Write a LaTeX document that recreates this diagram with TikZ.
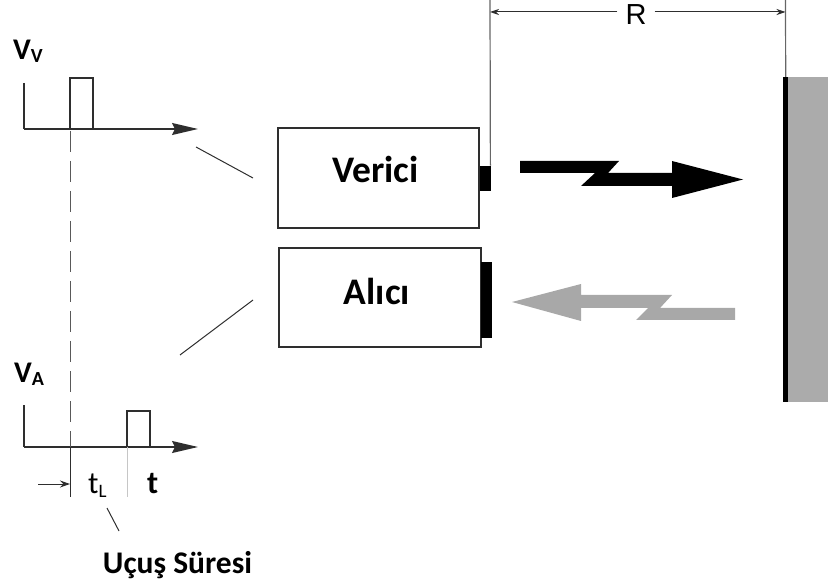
\documentclass[tikz,border=0pt]{standalone}
\usepackage{fontspec}
\setmainfont{Carlito}
\newfontfamily\arialfont{Liberation Sans}
\usetikzlibrary{arrows.meta}
\definecolor{ink}{HTML}{2E2E2E}
\definecolor{wallgray}{HTML}{ABABAB}
\definecolor{beamgray}{HTML}{A8A8A8}
\begin{document}
\begin{tikzpicture}[x=1pt,y=-1pt,
  axis/.style={draw=ink, line width=1.4pt, line join=miter},
  axarrow/.style={-{Stealth[length=26pt,width=12pt,inset=3pt]}},
  pulse/.style={draw=ink, line width=1.3pt},
  box/.style={draw=ink, line width=1.7pt, inner sep=0pt},
  pad/.style={fill=black, inner sep=0pt},
  big/.style={font=\fontsize{37.5}{42}\selectfont\bfseries, inner sep=0pt},
  lab/.style={font=\fontsize{30}{32}\selectfont\bfseries, inner sep=0pt},
  labr/.style={font=\fontsize{31}{32}\selectfont, inner sep=0pt},
  thin/.style={draw=ink, line width=1pt},
  dim/.style={draw=ink, line width=1pt, -{Stealth[length=9pt,width=6pt]}},
  ext/.style={draw=gray!80!black, line width=1.2pt}
]
\useasboundingbox (0,0) rectangle (828,588);

% transmitter / receiver boxes
\node[box, minimum width=201pt, minimum height=100pt] (verici) at (378.5,178) {};
\node[box, minimum width=202pt, minimum height=99pt] (alici) at (380,297.5) {};
\node[pad, minimum width=11pt, minimum height=25pt, anchor=south west] (tx) at (480,191) {};
\node[pad, minimum width=11pt, minimum height=76pt, anchor=south west] (rx) at (481,338) {};
\node[big, anchor=base] (tv) at (375.5,183) {Verici};
\node[big, anchor=base] (ta) at (377,305) {Alıcı};

% wall
\node[fill=wallgray, inner sep=0pt, minimum width=41pt, minimum height=325pt, anchor=north west] (wall) at (787,77) {};
\node[pad, minimum width=5pt, minimum height=325pt, anchor=north west] (wallface) at (783,77) {};

% R dimension
\coordinate (rtop) at (490,0);
\coordinate (wtop) at (785.5,0);
\coordinate (rl) at (490,12);
\coordinate (rr) at (785.5,12);
\draw[ext] ([xshift=-1pt]tx.north east) -- (rtop);
\draw[ext] (wallface.north) -- (wtop);
\node[inner xsep=8pt, inner ysep=0pt, anchor=base, font=\arialfont\fontsize{29}{32}\selectfont] (R) at (636,25) {R};
\draw[dim] (R.west |- rl) -- (rl);
\draw[dim] (R.east |- rr) -- (rr);

% transmitted beam (black)
\fill[black] (520,161) -- (619,161) -- (608,173) -- (672,173) -- (672,161)
  -- (743,179.5) -- (672,198) -- (672,186) -- (581,186) -- (595,173) -- (520,173) -- cycle;
% received beam (grey)
\fill[beamgray] (512,302) -- (581,284) -- (581,295) -- (672,295) -- (660,308)
  -- (735,308) -- (735,320) -- (636,320) -- (648,308) -- (581,308) -- (581,321) -- cycle;

% transmitted signal
\node[lab, anchor=base west] (vv) at (13,60) {V\raisebox{-3pt}{\fontsize{20}{20}\selectfont V}};
\coordinate (o1) at (24,129);
\coordinate (e1) at (198,129);
\draw[axis] (24,83) -- (o1);
\draw[axis, axarrow] (o1) -- (e1);
\draw[pulse] (70,129) -- (70,78) -- (93,78) -- (93,129);

% received signal
\node[lab, anchor=base west] (va) at (14,382) {V\raisebox{-3.5pt}{\fontsize{20}{20}\selectfont A}};
\coordinate (o2) at (24,447);
\coordinate (e2) at (198,447);
\draw[axis] (24,405) -- (o2);
\draw[axis, axarrow] (o2) -- (e2);
\draw[pulse] (127,447) -- (127,411) -- (150,411) -- (150,447);

% time markers
\draw[draw=gray!70!black, line width=0.9pt, dash pattern=on 21pt off 9pt] (70,131) -- (70,447);
\draw[thin] (70,447) -- (70,497);
\draw[draw=gray!45, line width=0.6pt] (127,447) -- (127,497);
\coordinate (ta0) at (38,484);
\coordinate (ta1) at (70,484);
\draw[thin, -{Stealth[length=10pt,width=7pt]}] (ta0) -- (ta1);

\node[labr, anchor=base west] (tl) at (88,493) {t\raisebox{-4pt}{\fontsize{19}{19}\selectfont L}};
\node[lab, anchor=base west, font=\fontsize{32}{34}\selectfont\bfseries] (tt) at (147,493) {t};
\node[lab, anchor=base, font=\fontsize{31.5}{34}\selectfont\bfseries] (uc) at (177.5,573) {Uçuş Süresi};
\coordinate (s0) at (107,508);
\coordinate (s1) at (119,531);
\draw[thin] (s0) -- (s1);

% leader lines to boxes
\coordinate (l1a) at (196,147);
\coordinate (l1b) at (253,178);
\coordinate (l2a) at (180,355);
\coordinate (l2b) at (253,300);
\draw[thin] (l1a) -- (l1b);
\draw[thin] (l2a) -- (l2b);
\end{tikzpicture}
\end{document}
